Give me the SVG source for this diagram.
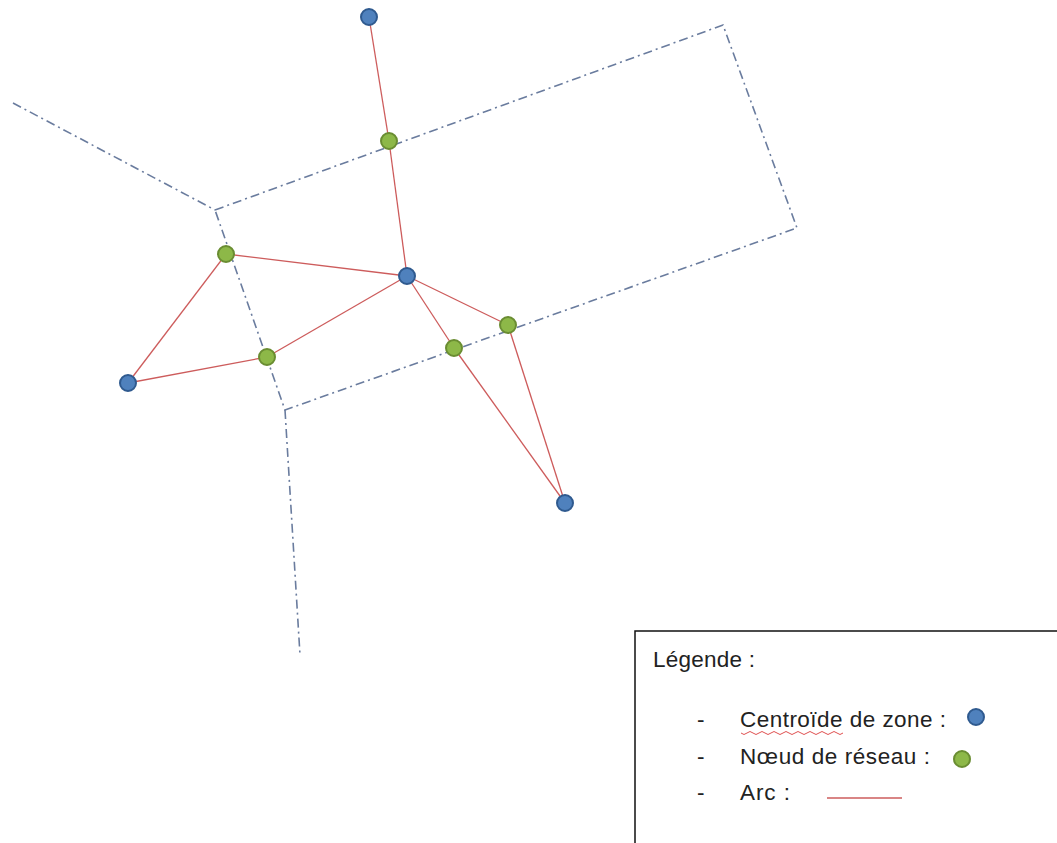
<svg xmlns="http://www.w3.org/2000/svg" width="1057" height="843" viewBox="0 0 1057 843">
<style>
.bound{fill:none;stroke:#6a7c9e;stroke-width:1.6;stroke-dasharray:9 4 2 4;}
.arc{stroke:#cd5c5c;stroke-width:1.3;fill:none;}
.centroid{fill:#4f81bd;stroke:#2f5a8f;stroke-width:2;}
.netnode{fill:#8db848;stroke:#6a8d32;stroke-width:2;}
.txt{font-family:"Liberation Sans",Arial,sans-serif;font-size:22.5px;fill:#222222;}
</style>
<rect width="1057" height="843" fill="#ffffff"/>
<g id="boundaries">
<polyline class="bound" points="13,103 215,210"/>
<polygon class="bound" points="215,210 723,25 797,228 285,410"/>
<polyline class="bound" points="285,410 300,655"/>
</g>
<g id="connectors">
<line class="arc" x1="369" y1="17" x2="389" y2="141"/>
<line class="arc" x1="389" y1="141" x2="407" y2="276"/>
<line class="arc" x1="226" y1="254" x2="407" y2="276"/>
<line class="arc" x1="128" y1="383" x2="226" y2="254"/>
<line class="arc" x1="128" y1="383" x2="267" y2="357"/>
<line class="arc" x1="267" y1="357" x2="407" y2="276"/>
<line class="arc" x1="407" y1="276" x2="454" y2="348"/>
<line class="arc" x1="407" y1="276" x2="508" y2="325"/>
<line class="arc" x1="454" y1="348" x2="565" y2="503"/>
<line class="arc" x1="508" y1="325" x2="565" y2="503"/>
</g>
<g id="c1"><circle class="centroid" cx="369" cy="17" r="8"/></g>
<g id="c2"><circle class="centroid" cx="407" cy="276" r="8"/></g>
<g id="c3"><circle class="centroid" cx="128" cy="383" r="8"/></g>
<g id="c4"><circle class="centroid" cx="565" cy="503" r="8"/></g>
<g id="n1"><circle class="netnode" cx="389" cy="141" r="8"/></g>
<g id="n2"><circle class="netnode" cx="226" cy="254" r="8"/></g>
<g id="n3"><circle class="netnode" cx="267" cy="357" r="8"/></g>
<g id="n4"><circle class="netnode" cx="454" cy="348" r="8"/></g>
<g id="n5"><circle class="netnode" cx="508" cy="325" r="8"/></g>
<g id="legend">
<rect x="635" y="631" width="480" height="260" fill="#ffffff" stroke="#111111" stroke-width="1.5"/>
<text class="txt" x="653" y="667" textLength="102" lengthAdjust="spacing">Légende :</text>
<text class="txt" x="697" y="727">-</text>
<text class="txt" x="740" y="727" textLength="206" lengthAdjust="spacing">Centroïde de zone :</text>
<path d="M741,733 q3,3 6,0 q3,-3 6,0 q3,3 6,0 q3,-3 6,0 q3,3 6,0 q3,-3 6,0 q3,3 6,0 q3,-3 6,0 q3,3 6,0 q3,-3 6,0 q3,3 6,0 q3,-3 6,0 q3,3 6,0 q3,-3 6,0 q3,3 6,0 q3,-3 6,0 q3,3 6,0" fill="none" stroke="#e05050" stroke-width="1"/>
<circle class="centroid" cx="976" cy="717" r="8"/>
<text class="txt" x="697" y="764">-</text>
<text class="txt" x="740" y="764" textLength="190" lengthAdjust="spacing">Nœud de réseau :</text>
<circle class="netnode" cx="962" cy="759" r="8"/>
<text class="txt" x="697" y="800">-</text>
<text class="txt" x="740" y="800" textLength="50" lengthAdjust="spacing">Arc :</text>
<line class="arc" x1="827" y1="798" x2="902" y2="798"/>
</g>
</svg>
